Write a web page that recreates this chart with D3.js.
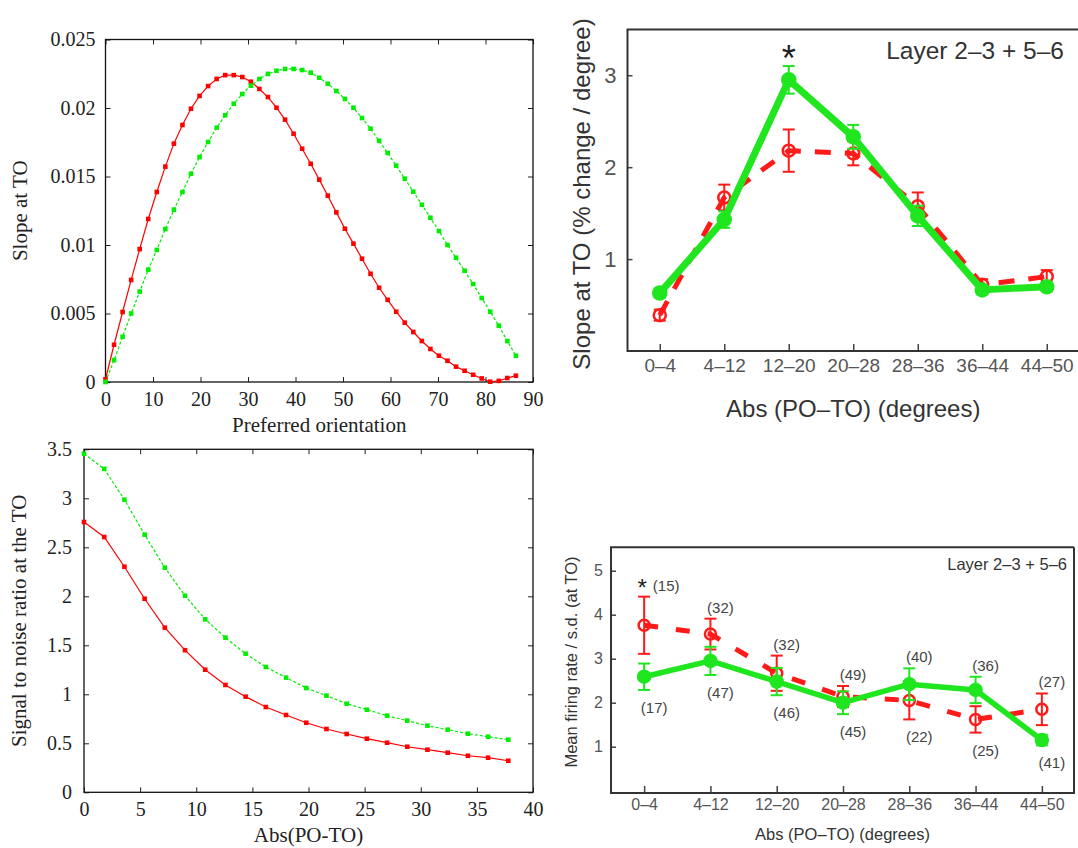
<!DOCTYPE html>
<html>
<head>
<meta charset="utf-8">
<script src="https://cdn.jsdelivr.net/npm/d3@7"></script>
<style>
  body { margin: 0; background: #fff; }
  svg { display: block; }
</style>
</head>
<body>
<div id="figure"></div>
<script>
// ---------- data: model panels (left) ----------
const prefOrientation = [0, 1.8, 3.6, 5.4, 7.2, 9, 10.8, 12.6, 14.4, 16.2, 18, 19.8, 21.6, 23.4, 25.2, 27, 28.8, 30.6, 32.4, 34.2,
  36, 37.8, 39.6, 41.4, 43.2, 45, 46.8, 48.6, 50.4, 52.2, 54, 55.8, 57.6, 59.4, 61.2, 63, 64.8, 66.6, 68.4, 70.2,
  72, 73.8, 75.6, 77.4, 79.2, 81, 82.8, 84.6, 86.4];
const slopeRed = [0.0002, 0.00272, 0.00511, 0.00745, 0.0097, 0.0119, 0.01387, 0.01572, 0.0174, 0.01876,
  0.01995, 0.02088, 0.0216, 0.02212, 0.0224, 0.0224, 0.02226, 0.02192, 0.02139, 0.0208,
  0.02002, 0.01915, 0.01812, 0.01703, 0.01593, 0.01477, 0.0136, 0.01238, 0.01119, 0.0101,
  0.009, 0.0079, 0.00688, 0.006, 0.00513, 0.00433, 0.00365, 0.00299, 0.00241, 0.00192,
  0.00155, 0.00112, 0.00082, 0.00053, 0.00026, 0.00002, 0.00008, 0.00029, 0.00046];
const slopeGreen = [0, 0.0016, 0.0033, 0.005, 0.0066, 0.0082, 0.00964, 0.01117, 0.01258, 0.01387,
  0.0152, 0.01642, 0.01752, 0.01856, 0.01947, 0.02031, 0.02102, 0.02163, 0.02212, 0.02249,
  0.02272, 0.02285, 0.02285, 0.02277, 0.02258, 0.02221, 0.02177, 0.02124, 0.02066, 0.02002,
  0.01927, 0.01849, 0.01761, 0.01672, 0.01579, 0.01484, 0.01389, 0.01294, 0.01199, 0.01102,
  0.01, 0.00907, 0.00812, 0.00715, 0.00613, 0.00513, 0.00411, 0.00299, 0.00192];
const slopeXTicks = [0, 10, 20, 30, 40, 50, 60, 70, 80, 90];
const slopeYTicks = [0, 0.005, 0.01, 0.015, 0.02, 0.025];

const absDiff = [0, 1.8, 3.6, 5.4, 7.2, 9, 10.8, 12.6, 14.4, 16.2, 18, 19.8, 21.6, 23.4, 25.2, 27, 28.8, 30.6,
  32.4, 34.2, 36, 37.8];
const snrRed = [2.758, 2.605, 2.302, 1.975, 1.68, 1.45, 1.251, 1.095, 0.976, 0.87, 0.789, 0.71, 0.646, 0.595,
  0.547, 0.506, 0.465, 0.435, 0.404, 0.373, 0.353, 0.322];
const snrGreen = [3.455, 3.3, 2.986, 2.629, 2.292, 2.006, 1.765, 1.578, 1.414, 1.279, 1.17, 1.064, 0.986, 0.904,
  0.843, 0.782, 0.731, 0.68, 0.639, 0.598, 0.567, 0.537];
const snrXTicks = [0, 5, 10, 15, 20, 25, 30, 35, 40];
const snrYTicks = [0, 0.5, 1, 1.5, 2, 2.5, 3, 3.5];

// ---------- data: experimental panels (right) ----------
const bins = ["0\u20134", "4\u201312", "12\u201320", "20\u201328", "28\u201336", "36\u201344", "44\u201350"];
const expSlopeRed = [0.39, 1.67, 2.18, 2.15, 1.575, 0.72, 0.81];
const expSlopeRedErr = [0.06, 0.14, 0.23, 0.13, 0.15, 0.06, 0.07];
const expSlopeGreen = [0.63, 1.43, 2.95, 2.33, 1.47, 0.665, 0.7];
const expSlopeGreenErr = [0.05, 0.09, 0.15, 0.13, 0.11, 0.05, 0.05];
const expSlopeYTicks = [1, 2, 3];

const rateRed = [3.76, 3.56, 2.67, 2.14, 2.05, 1.62, 1.85];
const rateRedErr = [0.65, 0.35, 0.4, 0.24, 0.43, 0.3, 0.36];
const rateGreen = [2.59, 2.95, 2.48, 2.0, 2.42, 2.29, 1.15];
const rateGreenErr = [0.3, 0.32, 0.31, 0.26, 0.36, 0.3, 0.12];
const rateYTicks = [1, 2, 3, 4, 5];
const countsTop = ["(15)", "(32)", "(32)", "(49)", "(40)", "(36)", "(27)"];
const countsBottom = ["(17)", "(47)", "(46)", "(45)", "(22)", "(25)", "(41)"];

const layerLabel = "Layer 2\u20133 + 5\u20136";

// ---------- svg ----------
const width = 1078;
const height = 848;
const serif = "'Liberation Serif', 'DejaVu Serif', serif";
const sans = "'Liberation Sans', Arial, sans-serif";

const svg = d3.select("#figure").append("svg")
  .attr("width", width)
  .attr("height", height);

// gnuplot-style panel: framed box, inward ticks on all four sides
function gnuplotPanel(p) {
  const x = d3.scaleLinear().domain(p.xDomain).range([p.left, p.right]);
  const y = d3.scaleLinear().domain(p.yDomain).range([p.bottom, p.top]);
  const g = svg.append("g");

  const sides = [
    [d3.axisBottom(x).tickValues(p.xTicks).tickFormat(d => String(d)), `translate(0,${p.bottom})`],
    [d3.axisTop(x).tickValues(p.xTicks).tickFormat(""), `translate(0,${p.top})`],
    [d3.axisLeft(y).tickValues(p.yTicks).tickFormat(d => String(d)), `translate(${p.left},0)`],
    [d3.axisRight(y).tickValues(p.yTicks).tickFormat(""), `translate(${p.right},0)`]
  ];
  sides.forEach(([axis, tr], i) => {
    const a = g.append("g")
      .attr("transform", tr)
      .call(axis.tickSizeInner(-5).tickSizeOuter(0).tickPadding(i === 2 ? p.yPad : 10));
    a.select(".domain").remove();
    a.selectAll("line").attr("stroke", "#222").attr("stroke-width", 1);
    a.selectAll("text")
      .attr("font-family", serif)
      .attr("font-size", 20)
      .attr("fill", "#222");
  });

  g.append("rect")
    .attr("x", p.left).attr("y", p.top)
    .attr("width", p.right - p.left).attr("height", p.bottom - p.top)
    .attr("fill", "none").attr("stroke", "#111").attr("stroke-width", 1.3);

  const line = d3.line().x(d => x(d[0])).y(d => y(d[1]));

  p.series.forEach(s => {
    const pts = p.xValues.map((v, i) => [v, s.values[i]]);
    g.append("path")
      .datum(pts)
      .attr("fill", "none")
      .attr("stroke", s.color)
      .attr("stroke-width", 1.2)
      .attr("stroke-dasharray", s.dash)
      .attr("d", line);
    g.selectAll(null)
      .data(pts)
      .join("rect")
      .attr("x", d => x(d[0]) - 2.3)
      .attr("y", d => y(d[1]) - 2.3)
      .attr("width", 4.6)
      .attr("height", 4.6)
      .attr("fill", s.color);
  });

  g.append("text")
    .attr("x", (p.left + p.right) / 2)
    .attr("y", p.xLabelY)
    .attr("text-anchor", "middle")
    .attr("font-family", serif)
    .attr("font-size", 21)
    .attr("fill", "#222")
    .text(p.xLabel);

  g.append("text")
    .attr("transform", `translate(${p.yLabelX},${(p.top + p.bottom) / 2}) rotate(-90)`)
    .attr("text-anchor", "middle")
    .attr("font-family", serif)
    .attr("font-size", 21)
    .attr("fill", "#222")
    .text(p.yLabel);
}

gnuplotPanel({
  left: 105.5, right: 533, top: 39.5, bottom: 382,
  xDomain: [0, 90], yDomain: [0, 0.025],
  xTicks: slopeXTicks, yTicks: slopeYTicks, yPad: 10,
  xValues: prefOrientation,
  series: [
    { values: slopeRed, color: "#ff0000", dash: null },
    { values: slopeGreen, color: "#00ee00", dash: "3,2" }
  ],
  xLabel: "Preferred orientation", xLabelY: 432,
  yLabel: "Slope at TO", yLabelX: 27
});

gnuplotPanel({
  left: 84, right: 533, top: 449.3, bottom: 792.3,
  xDomain: [0, 40], yDomain: [0, 3.5],
  xTicks: snrXTicks, yTicks: snrYTicks, yPad: 12,
  xValues: absDiff,
  series: [
    { values: snrRed, color: "#ff0000", dash: null },
    { values: snrGreen, color: "#00ee00", dash: "3,2" }
  ],
  xLabel: "Abs(PO-TO)", xLabelY: 842,
  yLabel: "Signal to noise ratio at the TO", yLabelX: 26
});

// journal-style panel: category axis, error bars, thick lines
function dataPanel(p) {
  const x = d3.scalePoint().domain(bins).range([p.left, p.right]).padding(0.5);
  const y = d3.scaleLinear().domain(p.yDomain).range(p.yRange);
  const g = svg.append("g");

  const xa = g.append("g")
    .attr("transform", `translate(0,${p.bottom})`)
    .call(d3.axisBottom(x).tickSizeInner(-p.xTickLen).tickSizeOuter(0).tickPadding(p.xPad));
  const ya = g.append("g")
    .attr("transform", `translate(${p.left},0)`)
    .call(d3.axisLeft(y).tickValues(p.yTicks).tickFormat(d3.format("d"))
      .tickSizeInner(-5).tickSizeOuter(0).tickPadding(p.yPad));
  [xa, ya].forEach(a => {
    a.select(".domain").remove();
    a.selectAll("line").attr("stroke", "#444").attr("stroke-width", 1.5);
    a.selectAll("text").attr("font-family", sans).attr("fill", "#555");
  });
  xa.selectAll("text").attr("font-size", p.xTickFont);
  ya.selectAll("text").attr("font-size", p.yTickFont);

  // frame
  const frame = d3.path();
  frame.moveTo(p.frameRight, p.top);
  frame.lineTo(p.left, p.top);
  frame.lineTo(p.left, p.bottom);
  frame.lineTo(p.frameRight, p.bottom);
  if (p.closed) frame.lineTo(p.frameRight, p.top);
  g.append("path")
    .attr("d", frame.toString())
    .attr("fill", "none")
    .attr("stroke", "#333")
    .attr("stroke-width", 2);

  const line = d3.line().x(d => x(d.bin)).y(d => y(d.v));

  p.series.forEach(s => {
    const pts = bins.map((b, i) => ({ bin: b, v: s.values[i], e: s.err[i] }));
    g.append("path")
      .datum(pts)
      .attr("fill", "none")
      .attr("stroke", s.color)
      .attr("stroke-width", s.lineWidth)
      .attr("stroke-dasharray", s.dash)
      .attr("stroke-linejoin", "round")
      .attr("d", line);
    const eb = g.selectAll(null).data(pts).join("g").attr("stroke", s.color).attr("stroke-width", 2);
    eb.append("line")
      .attr("x1", d => x(d.bin)).attr("x2", d => x(d.bin))
      .attr("y1", d => y(d.v - d.e)).attr("y2", d => y(d.v + d.e));
    eb.append("line")
      .attr("x1", d => x(d.bin) - 6).attr("x2", d => x(d.bin) + 6)
      .attr("y1", d => y(d.v + d.e)).attr("y2", d => y(d.v + d.e));
    eb.append("line")
      .attr("x1", d => x(d.bin) - 6).attr("x2", d => x(d.bin) + 6)
      .attr("y1", d => y(d.v - d.e)).attr("y2", d => y(d.v - d.e));
    g.selectAll(null).data(pts).join("circle")
      .attr("cx", d => x(d.bin))
      .attr("cy", d => y(d.v))
      .attr("r", s.filled ? p.markerR + 0.5 : p.markerR)
      .attr("fill", s.filled ? s.color : "#fff")
      .attr("fill-opacity", s.filled ? 1 : 0)
      .attr("stroke", s.color)
      .attr("stroke-width", 2.5);
  });

  g.append("text")
    .attr("x", p.frameRight - p.labelInset)
    .attr("y", p.layerY)
    .attr("text-anchor", "end")
    .attr("font-family", sans)
    .attr("font-size", p.layerFont)
    .attr("fill", "#333")
    .text(layerLabel);

  g.append("text")
    .attr("x", (p.left + p.frameRight) / 2)
    .attr("y", p.xLabelY)
    .attr("text-anchor", "middle")
    .attr("font-family", sans)
    .attr("font-size", p.xLabelFont)
    .attr("fill", "#333")
    .text(p.xLabel);

  g.append("text")
    .attr("transform", `translate(${p.yLabelX},${p.yLabelMid}) rotate(-90)`)
    .attr("text-anchor", "middle")
    .attr("font-family", sans)
    .attr("font-size", p.yLabelFont)
    .attr("fill", "#333")
    .text(p.yLabel);

  return { x, y, g };
}

const red = "#ff1a1a";
const green = "#1fe61f";

// top right: slope at TO per bin
const tr = dataPanel({
  left: 627.5, right: 1079, frameRight: 1079, top: 29.5, bottom: 351, closed: false,
  yDomain: [0, 3.5], yRange: [351, 29.3], yTicks: expSlopeYTicks,
  xTickLen: 7, xPad: 8, yPad: 11, xTickFont: 19, yTickFont: 22,
  markerR: 6,
  series: [
    { values: expSlopeRed, err: expSlopeRedErr, color: red, dash: "16,14", lineWidth: 5, filled: false },
    { values: expSlopeGreen, err: expSlopeGreenErr, color: green, dash: null, lineWidth: 7, filled: true }
  ],
  layerY: 59, layerFont: 24.5, labelInset: 15,
  xLabel: "Abs (PO\u2013TO) (degrees)", xLabelY: 417, xLabelFont: 24,
  yLabel: "Slope at TO (% change / degree)", yLabelX: 590, yLabelMid: 194, yLabelFont: 24
});
// significance star above the 12-20 bin
tr.g.append("text")
  .attr("x", tr.x(bins[2]))
  .attr("y", tr.y(expSlopeGreen[2] + expSlopeGreenErr[2]) + 5)
  .attr("text-anchor", "middle")
  .attr("font-family", sans)
  .attr("font-size", 36)
  .attr("fill", "#222")
  .text("*");

// bottom right: firing rate / s.d. per bin
const br = dataPanel({
  left: 611, right: 1075, frameRight: 1074, top: 547.3, bottom: 793, closed: true,
  yDomain: [0, 5], yRange: [790.7, 570.7], yTicks: rateYTicks,
  xTickLen: 7, xPad: 6, yPad: 8, xTickFont: 16, yTickFont: 16,
  markerR: 5.5,
  series: [
    { values: rateRed, err: rateRedErr, color: red, dash: "14,18", lineWidth: 5, filled: false },
    { values: rateGreen, err: rateGreenErr, color: green, dash: null, lineWidth: 5.5, filled: true }
  ],
  layerY: 570, layerFont: 16.5, labelInset: 7,
  xLabel: "Abs (PO\u2013TO) (degrees)", xLabelY: 840, xLabelFont: 16.5,
  yLabel: "Mean firing rate / s.d. (at TO)", yLabelX: 577, yLabelMid: 662, yLabelFont: 16.5
});

// number of cells per bin, above and below the error bars
bins.forEach((b, i) => {
  const hi = Math.max(rateRed[i] + rateRedErr[i], rateGreen[i] + rateGreenErr[i]);
  const lo = Math.min(rateRed[i] - rateRedErr[i], rateGreen[i] - rateGreenErr[i]);
  const cx = br.x(b) + (i === 0 ? 22 : 10);
  br.g.append("text")
    .attr("x", cx).attr("y", br.y(hi) - 6)
    .attr("text-anchor", "middle")
    .attr("font-family", sans).attr("font-size", 15).attr("fill", "#444")
    .text(countsTop[i]);
  br.g.append("text")
    .attr("x", br.x(b) + 10).attr("y", br.y(lo) + 23)
    .attr("text-anchor", "middle")
    .attr("font-family", sans).attr("font-size", 15).attr("fill", "#444")
    .text(countsBottom[i]);
});
br.g.append("text")
  .attr("x", br.x(bins[0]) - 2)
  .attr("y", br.y(rateRed[0] + rateRedErr[0]) - 1)
  .attr("text-anchor", "middle")
  .attr("font-family", sans)
  .attr("font-size", 24)
  .attr("fill", "#222")
  .text("*");
</script>
</body>
</html>
